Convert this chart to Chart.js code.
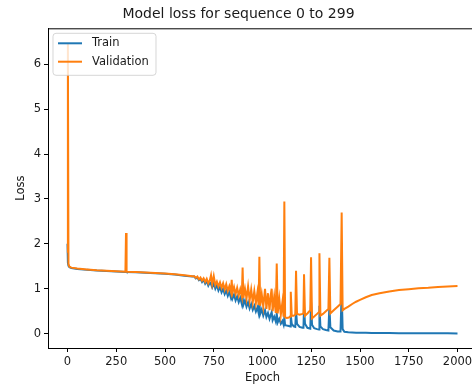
<!doctype html>
<html lang="en">
<head>
<meta charset="utf-8">
<title>Model loss</title>
<script src="https://cdn.jsdelivr.net/npm/chart.js"></script>
<style>
  html, body { margin: 0; padding: 0; overflow: hidden; background: #fff; }
  #wrap { position: relative; width: 477px; height: 385px; }
</style>
</head>
<body>
<div id="wrap"><canvas id="lossChart"></canvas></div>
<script>
var epochs = [
  0, 2, 5, 10, 20,
  50, 100, 150, 200, 250, 297, 300, 303, 350, 400, 450, 500, 550, 600, 640,
  650, 658, 666, 674, 682, 690, 698, 706, 714, 722,
  730, 736, 742, 750, 758, 766, 774, 782, 790, 798,
  806, 814, 822, 830, 838, 842, 846, 854, 862, 870,
  878, 886, 894, 898, 902, 910, 918, 926, 934, 942,
  950, 958, 966, 974, 980, 984, 988, 996, 1004, 1013,
  1020, 1028, 1036, 1042, 1047, 1052, 1060, 1068, 1073, 1078,
  1086, 1094, 1102, 1108, 1112, 1116,
  1125, 1135, 1142, 1145, 1150, 1160, 1168, 1172, 1177, 1190,
  1205, 1210, 1213, 1218, 1230, 1245, 1249, 1254, 1265, 1280,
  1290, 1292, 1297, 1310, 1325, 1338, 1343, 1348, 1365, 1385,
  1400, 1406, 1411, 1420,
  1440, 1460, 1480, 1500, 1530, 1560, 1600, 1650, 1700, 1750, 1800, 1850, 1900, 1950, 2000
];
var trainLoss = [
  2.00, 1.58, 1.51, 1.48, 1.46,
  1.44, 1.42, 1.405, 1.395, 1.385, 1.375, 1.38, 1.37, 1.365, 1.355, 1.345, 1.335, 1.315, 1.29, 1.27,
  1.27, 1.23, 1.25, 1.19, 1.22, 1.15, 1.20, 1.11, 1.17, 1.07,
  1.14, 1.10, 1.03, 1.12, 1.00, 1.08, 0.96, 1.04, 0.92, 1.00,
  0.88, 0.96, 0.84, 0.93, 0.80, 0.88, 0.78, 0.87, 0.74, 0.83,
  0.70, 0.80, 0.66, 0.82, 0.64, 0.74, 0.60, 0.70, 0.56, 0.66,
  0.53, 0.62, 0.49, 0.58, 0.46, 0.71, 0.44, 0.54, 0.40, 0.52,
  0.37, 0.46, 0.33, 0.42, 0.48, 0.30, 0.38, 0.27, 0.45, 0.25,
  0.33, 0.22, 0.28, 0.20, 0.36, 0.19,
  0.18, 0.17, 0.16, 0.41, 0.22, 0.16, 0.15, 0.52, 0.22, 0.15,
  0.13, 0.13, 0.60, 0.22, 0.13, 0.11, 0.71, 0.20, 0.12, 0.10,
  0.09, 0.62, 0.16, 0.10, 0.08, 0.07, 0.62, 0.14, 0.07, 0.05,
  0.05, 0.93, 0.10, 0.04,
  0.03, 0.025, 0.02, 0.02, 0.018, 0.016, 0.014, 0.012, 0.011, 0.010, 0.009, 0.008, 0.007, 0.006, 0.005
];
var valLoss = [
  1.80, 6.47, 1.55, 1.49, 1.47,
  1.45, 1.43, 1.41, 1.40, 1.39, 1.38, 2.24, 1.375, 1.37, 1.36, 1.35, 1.34, 1.32, 1.30, 1.28,
  1.28, 1.24, 1.27, 1.21, 1.25, 1.18, 1.23, 1.15, 1.22, 1.12,
  1.19, 1.30, 1.10, 1.28, 1.08, 1.16, 1.05, 1.14, 1.02, 1.12,
  0.98, 1.10, 0.95, 1.06, 0.93, 1.20, 0.91, 1.04, 0.88, 1.02,
  0.85, 0.99, 0.83, 1.47, 0.80, 1.00, 0.78, 1.05, 0.74, 0.98,
  0.70, 0.95, 0.68, 0.92, 0.64, 1.71, 0.62, 0.88, 0.60, 1.00,
  0.55, 0.90, 0.52, 0.85, 1.00, 0.50, 0.82, 0.46, 1.56, 0.45,
  0.78, 0.42, 0.70, 0.38, 2.94, 0.36,
  0.35, 0.36, 0.38, 0.93, 0.40, 0.40, 0.42, 1.40, 0.44, 0.42,
  0.44, 0.46, 1.32, 0.40, 0.45, 0.52, 1.70, 0.34, 0.38, 0.44,
  0.48, 1.79, 0.40, 0.44, 0.50, 0.55, 1.69, 0.45, 0.52, 0.60,
  0.66, 2.70, 0.52, 0.55,
  0.60, 0.66, 0.71, 0.75, 0.81, 0.86, 0.90, 0.94, 0.97, 0.99, 1.01, 1.02, 1.04, 1.05, 1.06
];
var xTicks = [0, 250, 500, 750, 1000, 1250, 1500, 1750, 2000];
var yTicks = [0, 1, 2, 3, 4, 5, 6];
var seriesNames = ['Train', 'Validation'];
var seriesColors = ['#1f77b4', '#ff7f0e'];

var FONT = 'DejaVu Sans';
var TXT = '#1a1a1a';
var LW = 2;

function points(ys) {
  return epochs.map(function (e, i) { return { x: e, y: ys[i] }; });
}

// top spine + matplotlib style legend inside the axes
var frameAndLegend = {
  id: 'frameAndLegend',
  afterDraw: function (chart) {
    var ctx = chart.ctx, a = chart.chartArea;
    ctx.save();
    ctx.strokeStyle = '#000';
    ctx.lineWidth = 1;
    ctx.beginPath();
    ctx.moveTo(a.left, a.top + 0.5);
    ctx.lineTo(a.right, a.top + 0.5);
    ctx.moveTo(a.right - 0.5, a.top);
    ctx.lineTo(a.right - 0.5, a.bottom);
    ctx.stroke();

    var bx = a.left + 5, by = a.top + 5, bw = 103, bh = 42, r = 3;
    ctx.beginPath();
    ctx.moveTo(bx + r, by);
    ctx.arcTo(bx + bw, by, bx + bw, by + bh, r);
    ctx.arcTo(bx + bw, by + bh, bx, by + bh, r);
    ctx.arcTo(bx, by + bh, bx, by, r);
    ctx.arcTo(bx, by, bx + bw, by, r);
    ctx.closePath();
    ctx.fillStyle = 'rgba(255,255,255,0.8)';
    ctx.fill();
    ctx.strokeStyle = 'rgba(204,204,204,0.8)';
    ctx.lineWidth = 1;
    ctx.stroke();

    ctx.font = '11.5px "' + FONT + '"';
    ctx.textBaseline = 'middle';
    for (var i = 0; i < seriesNames.length; i++) {
      var ly = by + 10 + i * 18.4;
      ctx.strokeStyle = seriesColors[i];
      ctx.lineWidth = LW;
      ctx.beginPath();
      ctx.moveTo(bx + 5, ly);
      ctx.lineTo(bx + 29, ly);
      ctx.stroke();
      ctx.fillStyle = TXT;
      ctx.fillText(seriesNames[i], bx + 39, ly);
    }
    ctx.restore();
  }
};

new Chart(document.getElementById('lossChart'), {
  type: 'line',
  data: {
    datasets: [
      { label: seriesNames[0], data: points(trainLoss), borderColor: seriesColors[0], borderWidth: LW, pointRadius: 0, tension: 0, order: 1 },
      { label: seriesNames[1], data: points(valLoss), borderColor: seriesColors[1], borderWidth: LW, pointRadius: 0, tension: 0, order: 0 }
    ]
  },
  options: {
    responsive: true,
    maintainAspectRatio: false,
    animation: false,
    layout: { padding: { top: 0, right: 0, bottom: 0, left: 0 } },
    plugins: {
      legend: { display: false },
      tooltip: { enabled: false },
      title: {
        display: true,
        text: 'Model loss for sequence 0 to 299',
        color: TXT,
        font: { family: FONT, size: 14, weight: 'normal' },
        padding: { top: 5.6, bottom: 5.9 }
      }
    },
    scales: {
      x: {
        type: 'linear',
        min: -100,
        max: 2100,
        afterBuildTicks: function (s) { s.ticks = xTicks.map(function (v) { return { value: v }; }); },
        afterFit: function (s) { s.height = 37; },
        grid: { drawOnChartArea: false, drawTicks: true, tickLength: 4, tickColor: '#000' },
        border: { display: true, color: '#000', width: 1 },
        ticks: {
          autoSkip: false, maxRotation: 0, padding: 3, color: TXT,
          font: { family: FONT, size: 11.5 },
          callback: function (v) { return String(v); }
        },
        title: { display: true, text: 'Epoch', color: TXT, font: { family: FONT, size: 11.5 }, padding: { top: 0, bottom: 0.5 } }
      },
      y: {
        type: 'linear',
        min: -0.32,
        max: 6.80,
        afterBuildTicks: function (s) { s.ticks = yTicks.map(function (v) { return { value: v }; }); },
        afterFit: function (s) { s.width = 48; },
        grid: { drawOnChartArea: false, drawTicks: true, tickLength: 4, tickColor: '#000' },
        border: { display: true, color: '#000', width: 1 },
        ticks: {
          autoSkip: false, padding: 3, color: TXT,
          font: { family: FONT, size: 11.5 },
          callback: function (v) { return String(v); }
        },
        title: { display: true, text: 'Loss', color: TXT, font: { family: FONT, size: 11.5 }, padding: { top: 14, bottom: 0 } }
      }
    }
  },
  plugins: [frameAndLegend]
});
</script>
</body>
</html>
